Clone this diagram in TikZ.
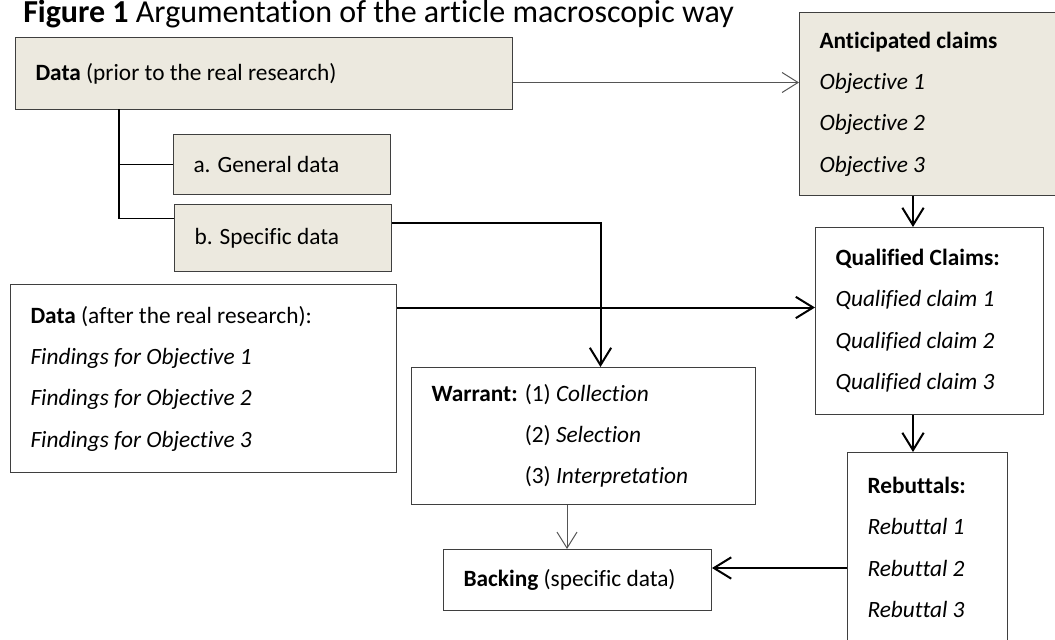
\documentclass[tikz,border=0pt]{standalone}
\usepackage{fontspec}
\setmainfont{Carlito}[Ligatures=NoCommon]
\usepackage{xcolor}
\definecolor{cLine}{HTML}{3F3F3F}
\definecolor{cShade}{HTML}{ECE9DF}
\definecolor{cThin}{HTML}{555555}
\usepackage{tikz}
\usetikzlibrary{arrows.meta}
\tikzset{
  node-box/.style={draw=cLine,line width=0.75pt,anchor=north west,
    inner xsep=15pt,inner ysep=0pt,align=flush left,
    font=\fontsize{17.5pt}{31pt}\selectfont},
  node-shade/.style={fill=cShade},
  arrow/.style={-{Straight Barb[length=13pt,width=16pt]},line width=1.5pt,draw=black},
  arrow-thin/.style={-{Straight Barb[length=12pt,width=15pt]},line width=0.75pt,draw=cThin},
  tree-line/.style={line width=1pt,draw=black},
}
\begin{document}
\begin{tikzpicture}[x=0.75pt,y=-0.75pt]
  \useasboundingbox (0,0) rectangle (1055,639);
  \node[anchor=base west,inner sep=0pt,font=\fontsize{24pt}{28pt}\selectfont] (title) at (23,22)
    {\textbf{Figure 1} Argumentation of the article macroscopic way};

  % data side
  \node[node-box,node-shade,text width=342.75pt,minimum height=54pt] (prior) at (15,37)
    {\textbf{Data} (prior to the real research)};
  \node[node-box,node-shade,text width=132.75pt,minimum height=45pt] (general) at (173,134)
    {a. General data};
  \node[node-box,node-shade,text width=132.75pt,minimum height=50.25pt] (specific) at (174,204)
    {b. Specific data};
  \node[node-box,text width=259.5pt,minimum height=141pt] (after) at (10,284)
    {\textbf{Data} (after the real research):\\
     \textit{Findings for Objective 1}\\
     \textit{Findings for Objective 2}\\
     \textit{Findings for Objective 3}};

  % warrant and backing
  \node[node-box,text width=228pt,minimum height=102.75pt] (warrant) at (411,367)
    {\textbf{Warrant:} (1) \textit{Collection}\\
     \phantom{\textbf{Warrant:} }(2) \textit{Selection}\\
     \phantom{\textbf{Warrant:} }(3) \textit{Interpretation}};
  \node[node-box,text width=171pt,minimum height=45.75pt] (backing) at (443,549)
    {\textbf{Backing} (specific data)};

  % claims side
  \node[node-box,node-shade,text width=173.25pt,minimum height=137.25pt] (antic) at (799,12)
    {\textbf{Anticipated claims}\\
     \textit{Objective 1}\\
     \textit{Objective 2}\\
     \textit{Objective 3}};
  \node[node-box,text width=141pt,minimum height=140.25pt] (qual) at (815,227)
    {\textbf{Qualified Claims:}\\
     \textit{Qualified claim 1}\\
     \textit{Qualified claim 2}\\
     \textit{Qualified claim 3}};
  \node[node-box,text width=90pt,minimum height=142.5pt] (rebut) at (847,452)
    {\textbf{Rebuttals:}\\
     \textit{Rebuttal 1}\\
     \textit{Rebuttal 2}\\
     \textit{Rebuttal 3}};

  % helper points
  \coordinate (prior-out) at ([yshift=-6.75pt]prior.east);
  \coordinate (trunk) at (119,109);
  \coordinate (spec-in) at ([yshift=14.6pt]specific.west);
  \coordinate (spec-out) at ([yshift=10.9pt]specific.east);
  \coordinate (warrant-in) at ([xshift=12.75pt]warrant.north);
  \coordinate (after-out) at ([yshift=53.25pt]after.east);
  \coordinate (claim-ax) at (913,0);
  \coordinate (back-ax) at (567,0);
  \coordinate (rebut-ay) at (0,568);

  \draw[tree-line] (trunk) |- (general.west);
  \draw[tree-line] (trunk) |- (spec-in);
  \draw[arrow-thin] (prior-out) -- (prior-out -| antic.west);
  \draw[arrow] (spec-out) -| (warrant-in);
  \draw[arrow] (after-out) -- (after-out -| qual.west);
  \draw[arrow] (antic.south -| claim-ax) -- (qual.north -| claim-ax);
  \draw[arrow] (qual.south -| claim-ax) -- (rebut.north -| claim-ax);
  \draw[arrow-thin] (warrant.south -| back-ax) -- (backing.north -| back-ax);
  \draw[arrow] (rebut.west |- rebut-ay) -- (backing.east |- rebut-ay);
\end{tikzpicture}
\end{document}
